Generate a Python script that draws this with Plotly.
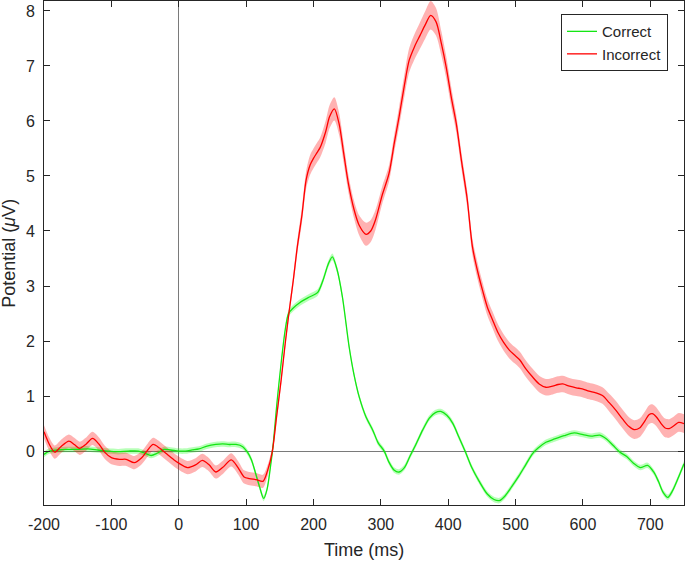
import plotly.graph_objects as go

# ---------------- data ----------------
t_incorrect = [-200, -192, -184, -175, -163, -155, -147, -138, -128, -118, -110, -100, -88, -78, -66,
               -55, -46, -38, -28, -18, -8, 0, 13, 25, 35, 45, 55, 65, 78, 88, 97, 105, 115, 125,
               132, 139, 145, 152, 158, 164, 170, 176, 183, 189, 195, 200, 205, 210, 218, 224, 231,
               238, 245, 252, 260, 268, 278, 285, 292, 302, 312, 320, 327, 335, 342, 350, 358, 366,
               374, 382, 390, 397, 405, 412, 420, 428, 436, 444, 451, 458, 466, 474, 482, 491, 498,
               506, 515, 525, 535, 545, 555, 563, 570, 580, 590, 599, 609, 619, 629, 639, 649, 659,
               668, 676, 684, 692, 698, 703, 709, 716, 722, 728, 735, 742, 750]
v_incorrect = [0.35, 0.12, -0.02, 0.08, 0.18, 0.12, 0.05, 0.12, 0.23, 0.12, -0.02, -0.12, -0.15, -0.15, -0.21,
               -0.12, 0.02, 0.12, 0.05, -0.05, -0.15, -0.22, -0.30, -0.25, -0.17, -0.25, -0.38, -0.30, -0.16, -0.30, -0.47, -0.50, -0.52, -0.55,
               -0.35, 0.00, 0.60, 1.29, 1.95, 2.55, 3.10, 3.71, 4.30, 4.92, 5.20, 5.32, 5.42, 5.52, 5.80, 6.08, 6.22,
               5.95, 5.40, 4.85, 4.40, 4.10, 3.94, 4.00, 4.20, 4.65, 5.04, 5.60, 6.07, 6.65, 7.10, 7.35, 7.55, 7.75,
               7.92, 7.80, 7.40, 6.98, 6.40, 5.95, 5.25, 4.60, 3.71, 3.25, 2.92, 2.62, 2.38, 2.15, 1.98, 1.83, 1.75,
               1.66, 1.50, 1.35, 1.22, 1.16, 1.18, 1.21, 1.22, 1.18, 1.15, 1.13, 1.09, 1.06, 1.01, 0.88, 0.74, 0.58,
               0.45, 0.39, 0.42, 0.55, 0.66, 0.68, 0.62, 0.50, 0.42, 0.41, 0.46, 0.52, 0.50]
sem_incorrect = [0.12, 0.12, 0.12, 0.12, 0.12, 0.12, 0.12, 0.12, 0.12, 0.12, 0.12, 0.12, 0.12, 0.12, 0.12,
                 0.12, 0.12, 0.12, 0.12, 0.12, 0.12, 0.12, 0.12, 0.12, 0.12, 0.12, 0.12, 0.12, 0.12, 0.12, 0.12, 0.12, 0.12, 0.12,
                 0.10, 0.08, 0.08, 0.08, 0.08, 0.08, 0.10, 0.12, 0.14, 0.16, 0.18, 0.18, 0.18, 0.18, 0.20, 0.21, 0.21,
                 0.20, 0.18, 0.16, 0.16, 0.18, 0.21, 0.20, 0.18, 0.16, 0.15, 0.16, 0.18, 0.20, 0.22, 0.23, 0.24, 0.25,
                 0.26, 0.25, 0.22, 0.20, 0.18, 0.16, 0.15, 0.15, 0.15, 0.15, 0.15, 0.15, 0.15, 0.15, 0.15, 0.15, 0.15,
                 0.15, 0.15, 0.15, 0.15, 0.15, 0.15, 0.15, 0.15, 0.15, 0.15, 0.15, 0.15, 0.15, 0.15, 0.16, 0.17, 0.17,
                 0.17, 0.17, 0.17, 0.17, 0.17, 0.17, 0.17, 0.17, 0.17, 0.17, 0.17, 0.17, 0.17]

t_correct = [-200, -192, -180, -165, -150, -135, -120, -105, -90, -75, -60, -50, -41, -32, -22, -12, 0, 10,
             20, 30, 42, 55, 65, 75, 85, 95, 102, 108, 114, 120, 126, 131, 136, 140, 146, 152, 158, 163,
             170, 180, 194, 206, 214, 222, 228, 235, 243, 253, 260, 268, 278, 288, 296, 305, 312, 320,
             327, 335, 343, 352, 362, 372, 381, 389, 398, 407, 416, 425, 435, 446, 458, 468, 476, 484,
             494, 505, 515, 525, 533, 545, 558, 572, 587, 600, 612, 625, 635, 645, 655, 665, 675, 685,
             696, 705, 712, 719, 726, 733, 741, 750]
v_correct = [-0.06, 0.00, 0.02, 0.03, 0.03, 0.04, 0.02, 0.00, -0.01, 0.00, 0.00, -0.04, -0.08, -0.04, 0.03, 0.02, 0.00, 0.00,
             0.02, 0.04, 0.09, 0.12, 0.13, 0.12, 0.12, 0.08, -0.02, -0.16, -0.40, -0.65, -0.86, -0.70, -0.30, 0.10, 0.90, 1.60, 2.20, 2.50,
             2.60, 2.70, 2.80, 2.88, 3.10, 3.40, 3.53, 3.30, 2.80, 1.89, 1.40, 0.98, 0.62, 0.38, 0.15, 0.00, -0.20, -0.35,
             -0.38, -0.30, -0.10, 0.12, 0.38, 0.60, 0.70, 0.72, 0.65, 0.50, 0.25, 0.00, -0.30, -0.55, -0.78, -0.88, -0.90, -0.82,
             -0.65, -0.45, -0.25, -0.05, 0.05, 0.16, 0.22, 0.28, 0.33, 0.30, 0.27, 0.29, 0.22, 0.10, -0.02, -0.10, -0.22, -0.30,
             -0.26, -0.38, -0.55, -0.75, -0.84, -0.72, -0.50, -0.23]
sem_correct = [0.05, 0.05, 0.05, 0.05, 0.05, 0.05, 0.05, 0.05, 0.05, 0.05, 0.05, 0.05, 0.05, 0.05, 0.05, 0.05, 0.05, 0.05,
               0.05, 0.05, 0.05, 0.05, 0.05, 0.05, 0.05, 0.05, 0.05, 0.05, 0.05, 0.05, 0.05, 0.05, 0.05, 0.05, 0.05, 0.05, 0.05, 0.06,
               0.06, 0.06, 0.06, 0.06, 0.06, 0.06, 0.06, 0.06, 0.06, 0.05, 0.05, 0.05, 0.05, 0.05, 0.05, 0.05, 0.05, 0.05,
               0.05, 0.05, 0.05, 0.05, 0.05, 0.05, 0.05, 0.05, 0.05, 0.05, 0.05, 0.05, 0.05, 0.05, 0.05, 0.05, 0.05, 0.05,
               0.05, 0.05, 0.05, 0.05, 0.05, 0.05, 0.05, 0.05, 0.05, 0.05, 0.05, 0.05, 0.05, 0.05, 0.05, 0.05, 0.05, 0.05,
               0.05, 0.05, 0.05, 0.05, 0.05, 0.05, 0.05, 0.05]

x_ticks = [-200, -100, 0, 100, 200, 300, 400, 500, 600, 700]
x_ticklabels = ["-200", "-100", "0", "100", "200", "300", "400", "500", "600", "700"]
y_ticks = [0, 1, 2, 3, 4, 5, 6, 7, 8]
y_ticklabels = ["0", "1", "2", "3", "4", "5", "6", "7", "8"]

series = [
    ("Correct", t_correct, v_correct, sem_correct, "rgb(20,230,20)", "rgba(0,255,0,0.28)"),
    ("Incorrect", t_incorrect, v_incorrect, sem_incorrect, "rgb(255,0,0)", "rgba(255,0,0,0.30)"),
]

FONT = "Liberation Sans, Arial, sans-serif"
TXT = "#262626"

fig = go.Figure()
# bands first
for name, t, v, s, lc, fc in series:
    upper = [a + b for a, b in zip(v, s)]
    lower = [a - b for a, b in zip(v, s)]
    fig.add_trace(go.Scatter(x=t, y=upper, mode="lines", line=dict(width=0, shape="spline", smoothing=0.8),
                             showlegend=False, hoverinfo="skip"))
    fig.add_trace(go.Scatter(x=t, y=lower, mode="lines", line=dict(width=0, shape="spline", smoothing=0.8),
                             fill="tonexty", fillcolor=fc, showlegend=False, hoverinfo="skip"))
for name, t, v, s, lc, fc in series:
    fig.add_trace(go.Scatter(x=t, y=v, mode="lines", name=name,
                             line=dict(color=lc, width=1.3, shape="spline", smoothing=0.8)))

axis_common = dict(
    showline=True, linecolor=TXT, linewidth=1, mirror="ticks",
    ticks="inside", ticklen=6, tickcolor=TXT, tickwidth=1,
    showgrid=False, zeroline=True, zerolinecolor="#7a7a7a", zerolinewidth=1,
    tickfont=dict(family=FONT, size=16, color=TXT), automargin=False,
)

fig.update_layout(
    width=685, height=562,
    margin=dict(l=44, r=1, t=1, b=57),
    paper_bgcolor="white", plot_bgcolor="white",
    xaxis=dict(range=[-200, 750], tickvals=x_ticks, ticktext=x_ticklabels, ticklabelstandoff=5, **axis_common),
    yaxis=dict(range=[-0.98, 8.18], tickvals=y_ticks, ticktext=y_ticklabels, ticklabelstandoff=5, **axis_common),
    legend=dict(x=0.975, y=0.974, xanchor="right", yanchor="top", traceorder="normal",
                bgcolor="white", bordercolor=TXT, borderwidth=1, entrywidth=122,
                font=dict(family=FONT, size=15, color=TXT), tracegroupgap=0),
    showlegend=True,
    annotations=[
        dict(text="Time (ms)", x=0.5, y=-0.089, xref="paper", yref="paper",
             xanchor="center", yanchor="middle", showarrow=False,
             font=dict(family=FONT, size=18, color=TXT)),
        dict(text="Potential (<i>μ</i>V)", x=-0.055, y=0.5, xref="paper", yref="paper",
             xanchor="center", yanchor="middle", textangle=-90, showarrow=False,
             font=dict(family=FONT, size=18, color=TXT)),
    ],
)

fig.write_html("out.html", config={"displayModeBar": False},
               post_script="document.body.style.margin='0px';document.body.style.overflow='hidden';")
